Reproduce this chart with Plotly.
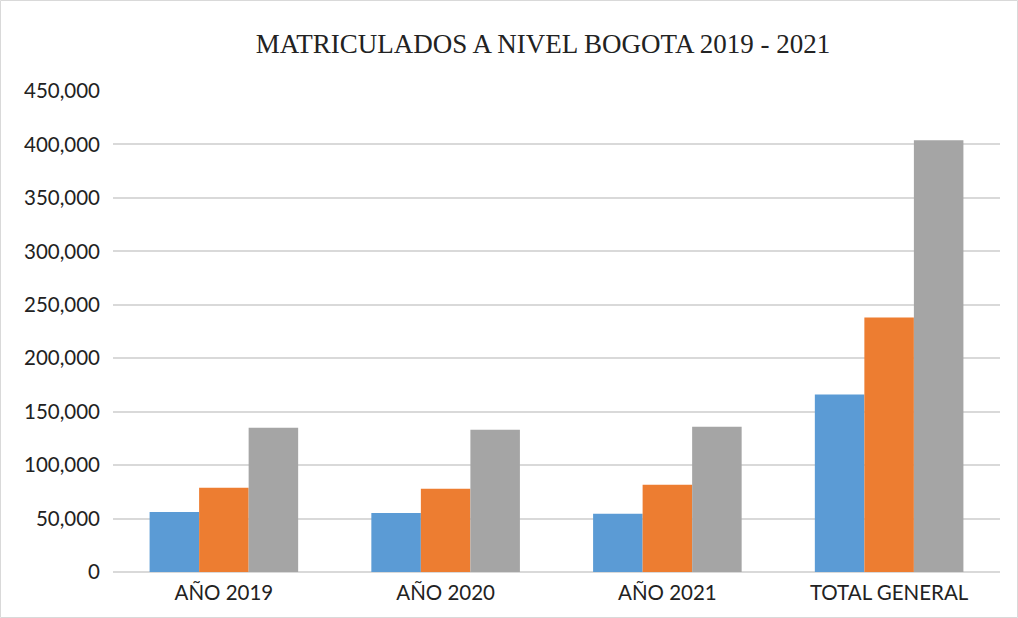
import plotly.graph_objects as go

categories = ["AÑO 2019", "AÑO 2020", "AÑO 2021", "TOTAL GENERAL"]
series_a = [56250, 55300, 54400, 165950]
series_b = [78750, 77800, 81550, 238100]
series_c = [135000, 133100, 135900, 404000]
series_names = ["Serie 1", "Serie 2", "Serie 3"]
colors = ["#5B9BD5", "#ED7D31", "#A5A5A5"]
y_ticks = [0, 50000, 100000, 150000, 200000, 250000, 300000, 350000, 400000, 450000]
y_tick_labels = ["0", "50,000", "100,000", "150,000", "200,000", "250,000",
                 "300,000", "350,000", "400,000", "450,000"]

W, H = 1018, 618
L, R, T, B = 113, 18, 91, 46
pw, ph = W - L - R, H - T - B

fig = go.Figure()
for name, vals, col in zip(series_names, [series_a, series_b, series_c], colors):
    fig.add_trace(go.Bar(x=categories, y=vals, name=name, marker_color=col,
                         marker_line_width=0))

def px_x(p):
    return (p - L) / pw

def px_y(p):
    return (H - B - p) / ph

fig.update_layout(
    width=W, height=H,
    margin=dict(l=L, r=R, t=T, b=B),
    paper_bgcolor="white", plot_bgcolor="white",
    barmode="group", bargap=0.33, bargroupgap=0,
    showlegend=False,
    title=dict(text="MATRICULADOS A NIVEL BOGOTA 2019 - 2021",
               font=dict(family="Liberation Serif", size=27, color="#222222"),
               x=543 / W, xanchor="center", y=1 - 44 / H, yanchor="middle"),
    font=dict(family="Lato", size=20, color="#222222"),
    xaxis=dict(showgrid=False, showline=False, ticks="", zeroline=False,
               ticklabelstandoff=6,
               tickfont=dict(family="Lato", size=20.5, color="#222222")),
    yaxis=dict(range=[0, 450000], tickvals=y_ticks, ticktext=y_tick_labels,
               showgrid=True, gridcolor="#d9d9d9", gridwidth=1.5,
               zeroline=True, zerolinecolor="#d9d9d9", zerolinewidth=1.5,
               showline=False, ticks="", ticklabelstandoff=12,
               tickfont=dict(family="Lato", size=20.5, color="#222222")),
    shapes=[dict(type="rect", xref="paper", yref="paper",
                 x0=px_x(0.5), x1=px_x(W - 0.5), y0=px_y(H - 0.5), y1=px_y(0.5),
                 line=dict(color="#d9d9d9", width=1), fillcolor="rgba(0,0,0,0)",
                 layer="below")],
)

fig.write_html("out.html", config={"displayModeBar": False},
               post_script="document.body.style.margin='0';document.body.style.padding='0';")
